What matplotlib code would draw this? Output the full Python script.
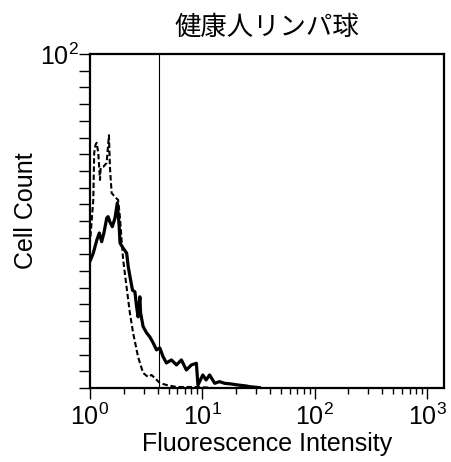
import matplotlib
matplotlib.use("Agg")
import matplotlib.pyplot as plt
from matplotlib.ticker import LogLocator, NullFormatter, FixedLocator

plt.rcParams["font.family"] = ["Liberation Sans", "Noto Sans CJK JP"]
plt.rcParams["mathtext.fontset"] = "custom"
plt.rcParams["mathtext.rm"] = "Liberation Sans"
plt.rcParams["mathtext.it"] = "Liberation Sans"

# control (dashed) histogram
ctrl_x = [1.01, 1.07, 1.09, 1.12, 1.146, 1.185, 1.227, 1.245, 1.312, 1.406, 1.475,
          1.504, 1.558, 1.667, 1.78, 1.846, 1.91, 1.975, 2.117, 2.264, 2.42, 2.68,
          2.97, 3.29, 3.53, 3.77, 4.18, 4.79, 5.88, 8.2, 12.0]
ctrl_y = [45.3, 56.3, 70.4, 72.8, 73.4, 70.4, 62.3, 65.9, 66.2, 67.4, 75.7,
          66.2, 58.4, 57.2, 56.3, 51.2, 44.3, 38.3, 30.2, 22.5, 16.5, 9.3,
          4.5, 3.3, 3.9, 3.0, 1.5, 0.9, 0.3, 0.3, 0.1]

# sample (solid) histogram
samp_x = [1.01, 1.07, 1.15, 1.21, 1.27, 1.33, 1.41, 1.45, 1.50, 1.58, 1.67, 1.75,
          1.82, 1.85, 1.97, 2.12, 2.19, 2.30, 2.39, 2.51, 2.60, 2.68, 2.78, 2.82,
          2.97, 3.19, 3.41, 3.65, 3.91, 4.18, 4.47, 4.79, 5.31, 5.88, 6.51, 7.21,
          7.99, 8.85, 9.14, 10.1, 10.8, 11.6, 12.9, 14.2, 15.8, 18.1, 20.7, 24.6,
          26.3, 32.2]
samp_y = [38.3, 40.4, 44.3, 46.4, 43.8, 46.4, 50.9, 51.3, 49.8, 48.3, 50.9, 55.4,
          48.3, 43.4, 41.9, 40.4, 36.3, 32.3, 29.3, 28.8, 24.3, 21.3, 27.3, 22.5,
          18.4, 16.5, 15.3, 13.5, 11.4, 12.0, 9.4, 7.5, 8.4, 6.9, 8.4, 5.4,
          6.9, 7.4, 0.9, 3.9, 2.4, 3.9, 1.4, 1.9, 1.4, 1.2, 0.9, 0.6,
          0.4, 0.1]

gate = 4.1
title = "健康人リンパ球"

fig = plt.figure(figsize=(4.52, 4.62), dpi=100)
ax = fig.add_axes([0.1991, 0.1602, 0.7832, 0.7229])

ax.plot(ctrl_x, ctrl_y, color="black", lw=1.5, dashes=(2.6, 1.3))
ax.plot(samp_x, samp_y, color="black", lw=2.3)
ax.axvline(gate, color="black", lw=0.8)

ax.set_xscale("log")
ax.set_xlim(1, 1417)
ax.set_ylim(0, 100)

ax.xaxis.set_major_locator(FixedLocator([1, 10, 100, 1000]))
ax.set_xticklabels([r"$10^0$", r"$10^1$", r"$10^2$", r"$10^3$"])
ax.xaxis.set_minor_locator(LogLocator(base=10, subs=range(2, 10)))
ax.xaxis.set_minor_formatter(NullFormatter())

yt = list(range(0, 101, 5))
ax.set_yticks(yt)
ax.set_yticklabels([r"$10^2$" if v == 100 else "" for v in yt])

ax.tick_params(axis="both", which="major", direction="out", length=8, width=1.0,
               labelsize=18, pad=3)
ax.tick_params(axis="y", pad=0)
ax.tick_params(axis="x", which="minor", direction="out", length=4, width=1.0)

for s in ax.spines.values():
    s.set_linewidth(1.6)

ax.set_xlabel("Fluorescence Intensity", fontsize=18, labelpad=2)
ax.set_ylabel("Cell Count", fontsize=18)
ax.yaxis.set_label_coords(-0.147, 0.53)
ax.set_title(title, fontsize=19, pad=14, family=["Noto Sans CJK JP"])

fig.savefig("out.png", dpi=100)
